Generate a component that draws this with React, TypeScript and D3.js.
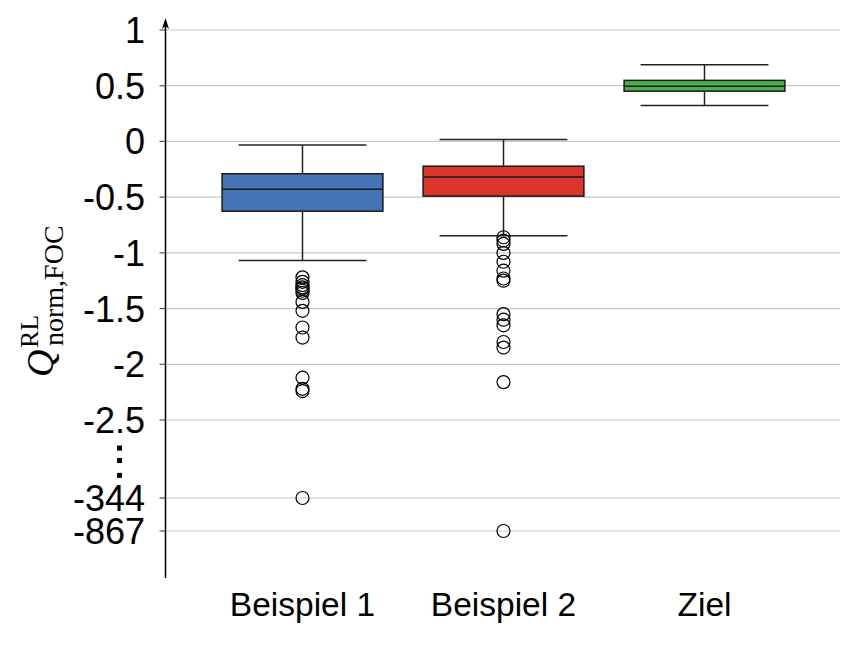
import React from "react";
import * as d3 from "d3";

const categories = ["Beispiel 1", "Beispiel 2", "Ziel"];
const colors = ["#4575b7", "#d9352b", "#4cae4c"];
// [lowerWhisker, q1, median, q3, upperWhisker]
const stats = [
  [-1.068, -0.626, -0.43, -0.29, -0.033],
  [-0.847, -0.491, -0.32, -0.222, 0.018],
  [0.323, 0.451, 0.496, 0.548, 0.689],
];
const outliers1 = [-1.22, -1.26, -1.29, -1.31, -1.32, -1.34, -1.36, -1.44, -1.52, -1.67, -1.76, -2.12, -2.22, -2.24, -344];
const outliers2 = [-0.86, -0.89, -0.92, -1.0, -1.08, -1.16, -1.23, -1.25, -1.55, -1.6, -1.65, -1.8, -1.85, -2.16, -867];
const outliers3: number[] = [];
const outliers = [outliers1, outliers2, outliers3];
const tickValues = [1, 0.5, 0, -0.5, -1, -1.5, -2, -2.5, -344, -867];
const tickLabels = ["1", "0.5", "0", "-0.5", "-1", "-1.5", "-2", "-2.5", "-344", "-867"];

const W = 868;
const H = 647;
const axisX = 165.5;
const gridRight = 840;
const axisBottom = 578;
const arrowTip = 18;

export default function App() {
  const y = d3
    .scaleLinear()
    .domain([-867, -344, -2.5, 1])
    .range([531, 498, 420, 30]);
  const x = d3
    .scaleBand<string>()
    .domain(categories)
    .range([202, 805])
    .paddingInner(0.2)
    .paddingOuter(0.1);
  const bw = x.bandwidth();
  const capW = bw * 0.795;
  const sans = "'Liberation Sans', Arial, Helvetica, sans-serif";
  const serif = "'Liberation Serif', 'Times New Roman', serif";

  const eTop = y(-2.5);
  const eBot = y(-344);
  const dots = [0.36, 0.52, 0.71].map((f) => eTop + (eBot - eTop) * f);

  return (
    <svg width={W} height={H} style={{ display: "block", position: "absolute", left: 0, top: 0 }}>
      <rect width={W} height={H} fill="#fff" />
      {tickValues.map((v, i) => (
        <g key={i}>
          <line x1={axisX} x2={gridRight} y1={y(v)} y2={y(v)} stroke="#c8c8c8" strokeWidth={1.2} />
          <line x1={axisX - 6} x2={axisX} y1={y(v)} y2={y(v)} stroke="#555" strokeWidth={1.2} />
          <text
            x={145}
            y={y(v)}
            dy="0.36em"
            textAnchor="end"
            fontFamily={sans}
            fontSize={36}
            fill="#000"
          >
            {tickLabels[i]}
          </text>
        </g>
      ))}
      {dots.map((d, i) => (
        <rect key={i} x={117} y={d - 2.5} width={5} height={5} fill="#000" />
      ))}
      <line x1={axisX} x2={axisX} y1={axisBottom} y2={arrowTip + 4} stroke="#000" strokeWidth={1.5} />
      <path
        d={`M${axisX},${arrowTip} L${axisX + 3.5},${arrowTip + 11} L${axisX},${arrowTip + 8} L${axisX - 3.5},${arrowTip + 11} Z`}
        fill="#000"
      />
      {categories.map((c, i) => {
        const [lw, q1, med, q3, uw] = stats[i];
        const cx = (x(c) as number) + bw / 2;
        const x0 = x(c) as number;
        return (
          <g key={c}>
            <line x1={cx} x2={cx} y1={y(uw)} y2={y(q3)} stroke="#222" strokeWidth={1.5} />
            <line x1={cx} x2={cx} y1={y(q1)} y2={y(lw)} stroke="#222" strokeWidth={1.5} />
            <line x1={cx - capW / 2} x2={cx + capW / 2} y1={y(uw)} y2={y(uw)} stroke="#222" strokeWidth={1.5} />
            <line x1={cx - capW / 2} x2={cx + capW / 2} y1={y(lw)} y2={y(lw)} stroke="#222" strokeWidth={1.5} />
            <rect
              x={x0}
              y={y(q3)}
              width={bw}
              height={y(q1) - y(q3)}
              fill={colors[i]}
              stroke="#1a1a1a"
              strokeWidth={1.5}
            />
            <line x1={x0} x2={x0 + bw} y1={y(med)} y2={y(med)} stroke="#1a1a1a" strokeWidth={1.5} />
            {outliers[i].map((o, j) => (
              <circle key={j} cx={cx} cy={y(o)} r={6.5} fill="none" stroke="#000" strokeWidth={1.2} />
            ))}
            <text
              x={cx}
              y={616}
              textAnchor="middle"
              fontFamily={sans}
              fontSize={33.5}
              fill="#000"
            >
              {c}
            </text>
          </g>
        );
      })}
      <g transform={`translate(53, 377) rotate(-90)`} fontFamily={serif} fill="#000">
        <text x={0} y={0} fontSize={38} fontStyle="italic">
          Q
        </text>
        <text x={29} y={-15} fontSize={26}>
          RL
        </text>
        <text x={31} y={10} fontSize={28}>
          norm,FOC
        </text>
      </g>
    </svg>
  );
}
